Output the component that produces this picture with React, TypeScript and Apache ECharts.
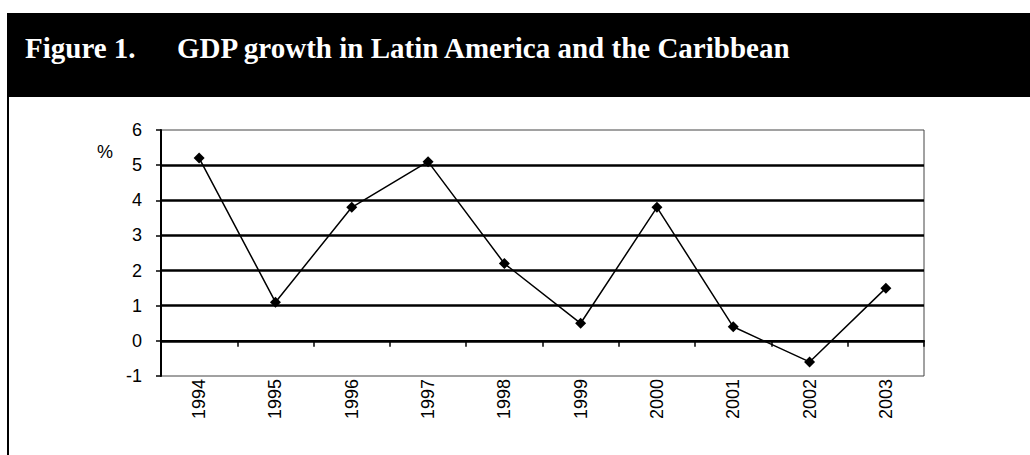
import React, { useEffect, useRef } from "react";
import * as echarts from "echarts";

const years = ["1994", "1995", "1996", "1997", "1998", "1999", "2000", "2001", "2002", "2003"];
const gdpGrowth = [5.2, 1.1, 3.8, 5.1, 2.2, 0.5, 3.8, 0.4, -0.6, 1.5];
const titleLabel = "Figure 1.";
const titleText = "GDP growth in Latin America and the Caribbean";
const unitLabel = "%";

export default function App() {
  const ref = useRef<HTMLDivElement>(null);
  useEffect(() => {
    document.body.style.margin = "0";
    const chart = echarts.init(ref.current!, null, { renderer: "svg" });
    const labelFont = "'Liberation Sans', Arial, sans-serif";
    const titleFont = "bold 29px 'Liberation Serif', 'Times New Roman', serif";
    chart.setOption({
      animation: false,
      backgroundColor: "#fff",
      grid: {
        left: 161,
        right: 106,
        top: 130,
        bottom: 79,
        show: true,
        borderColor: "#444",
        borderWidth: 1,
      },
      xAxis: [
        {
          type: "category",
          data: years,
          position: "bottom",
          boundaryGap: true,
          axisLine: { show: true, onZero: true, lineStyle: { color: "#000", width: 2 } },
          axisTick: { show: true, length: 6, inside: false, lineStyle: { color: "#000", width: 1.5 } },
          axisLabel: { show: false },
          splitLine: { show: false },
        },
        {
          type: "category",
          data: years,
          position: "bottom",
          boundaryGap: true,
          axisLine: { show: false, onZero: false },
          axisTick: { show: false },
          axisLabel: {
            show: true,
            rotate: 90,
            margin: 3,
            color: "#000",
            fontSize: 18,
            fontFamily: labelFont,
          },
          splitLine: { show: false },
        },
      ],
      yAxis: {
        type: "value",
        min: -1,
        max: 6,
        interval: 1,
        axisLine: { show: true, lineStyle: { color: "#000", width: 2 } },
        axisTick: { show: true, length: 5, lineStyle: { color: "#000", width: 1.5 } },
        axisLabel: { color: "#000", fontSize: 18, fontFamily: labelFont, margin: 19 },
        splitLine: {
          show: true,
          showMinLine: false,
          showMaxLine: false,
          lineStyle: { color: "#000", width: 2.5 },
        },
      },
      graphic: [
        { type: "rect", shape: { x: 7, y: 13, width: 1023, height: 84 }, style: { fill: "#000" } },
        {
          type: "text",
          x: 25,
          y: 33,
          style: { text: titleLabel, fill: "#fff", font: titleFont },
        },
        {
          type: "text",
          x: 177,
          y: 33,
          style: { text: titleText, fill: "#fff", font: titleFont },
        },
        { type: "rect", shape: { x: 7, y: 97, width: 2, height: 360 }, style: { fill: "#000" } },
        {
          type: "text",
          x: 97,
          y: 143,
          style: { text: unitLabel, fill: "#000", font: "18px 'Liberation Sans', Arial, sans-serif" },
        },
      ],
      series: [
        {
          type: "line",
          xAxisIndex: 0,
          data: gdpGrowth,
          symbol: "diamond",
          symbolSize: 11,
          lineStyle: { color: "#000", width: 1.5 },
          itemStyle: { color: "#000" },
        },
      ],
    });
    return () => chart.dispose();
  }, []);
  return <div ref={ref} style={{ position: "absolute", left: 0, top: 0, width: 1030, height: 455 }} />;
}
